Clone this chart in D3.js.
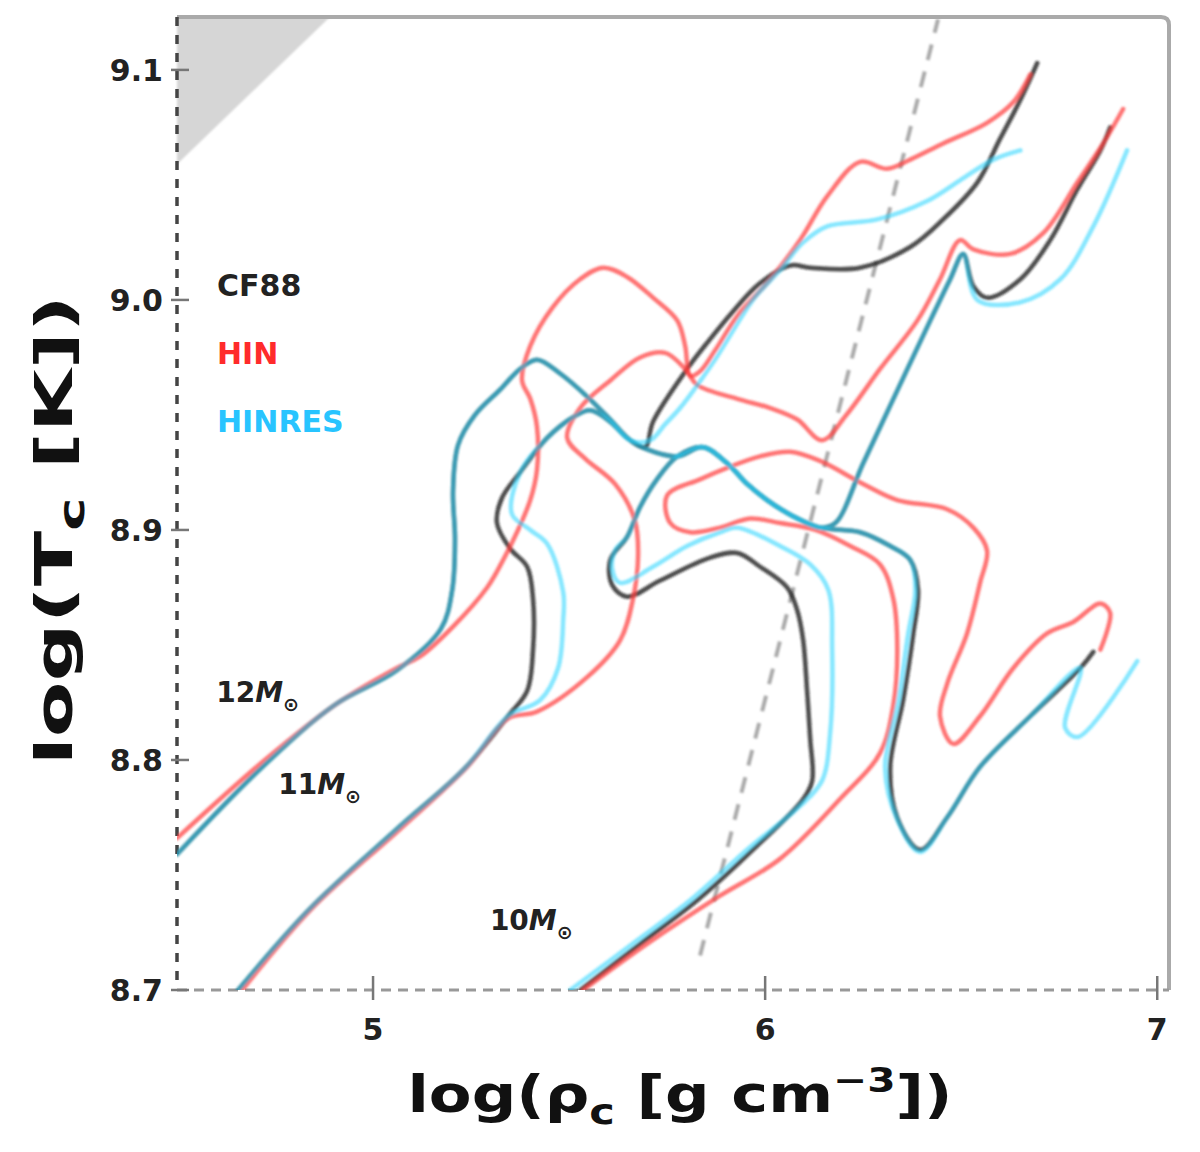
<!DOCTYPE html>
<html>
<head>
<meta charset="utf-8">
<title>log T_c vs log rho_c</title>
<script src="https://d3js.org/d3.v7.min.js"></script>
<style>
  body { margin: 0; background: #fff; }
  svg text { font-family: "DejaVu Sans", sans-serif; }
</style>
</head>
<body>
<script>
// central density / temperature tracks, [log rho_c, log T_c]
var m12_cf88 = [[4.500,8.759],[4.724,8.798],[4.903,8.824],[5.061,8.839],[5.173,8.857],[5.202,8.874],[5.209,8.896],[5.204,8.917],[5.217,8.937],[5.260,8.950],[5.324,8.961],[5.375,8.970],[5.418,8.974],[5.477,8.968],[5.546,8.958],[5.605,8.948],[5.656,8.939],[5.694,8.936],[5.714,8.947],[5.801,8.970],[5.855,8.982],[5.918,8.995],[5.985,9.007],[6.064,9.015],[6.115,9.014],[6.242,9.014],[6.370,9.023],[6.454,9.035],[6.541,9.051],[6.599,9.070],[6.651,9.087],[6.694,9.103]];
var m12_hin = [[4.500,8.766],[4.724,8.800],[4.903,8.824],[5.061,8.840],[5.120,8.845],[5.204,8.858],[5.291,8.875],[5.332,8.887],[5.367,8.899],[5.401,8.913],[5.418,8.926],[5.418,8.945],[5.401,8.957],[5.380,8.965],[5.401,8.980],[5.459,8.997],[5.528,9.009],[5.587,9.014],[5.648,9.010],[5.714,9.001],[5.776,8.991],[5.796,8.980],[5.809,8.967],[5.834,8.969],[5.872,8.978],[5.929,8.993],[6.013,9.009],[6.089,9.026],[6.158,9.045],[6.242,9.060],[6.311,9.057],[6.370,9.061],[6.454,9.068],[6.566,9.077],[6.633,9.086],[6.676,9.098]];
var m12_hinres = [[4.500,8.759],[4.724,8.798],[4.903,8.824],[5.061,8.839],[5.173,8.857],[5.202,8.874],[5.209,8.896],[5.204,8.917],[5.217,8.937],[5.260,8.950],[5.324,8.961],[5.375,8.970],[5.418,8.974],[5.477,8.968],[5.546,8.958],[5.605,8.948],[5.656,8.939],[5.707,8.939],[5.745,8.946],[5.783,8.953],[5.872,8.974],[5.969,9.000],[6.038,9.013],[6.097,9.025],[6.158,9.032],[6.286,9.035],[6.413,9.043],[6.497,9.052],[6.582,9.061],[6.651,9.065]];

var m11_cf88 = [[4.656,8.700],[4.837,8.735],[5.061,8.770],[5.232,8.796],[5.344,8.819],[5.393,8.830],[5.408,8.848],[5.408,8.870],[5.393,8.884],[5.349,8.892],[5.316,8.903],[5.329,8.914],[5.375,8.925],[5.444,8.940],[5.510,8.949],[5.554,8.952],[5.605,8.947],[5.648,8.940],[5.699,8.935],[5.776,8.932],[5.842,8.936],[5.903,8.929],[5.954,8.920],[6.005,8.913],[6.071,8.906],[6.140,8.901],[6.179,8.903],[6.250,8.929],[6.327,8.957],[6.421,8.991],[6.472,9.009],[6.505,9.020],[6.531,9.006],[6.566,9.001],[6.651,9.009],[6.727,9.026],[6.796,9.048],[6.855,9.065],[6.880,9.075]];
var m11_hin = [[4.666,8.700],[4.847,8.736],[5.069,8.770],[5.240,8.797],[5.344,8.818],[5.418,8.821],[5.546,8.836],[5.630,8.852],[5.663,8.870],[5.676,8.889],[5.668,8.904],[5.617,8.920],[5.541,8.931],[5.495,8.940],[5.528,8.953],[5.605,8.965],[5.681,8.975],[5.745,8.977],[5.796,8.970],[5.827,8.963],[5.929,8.957],[6.013,8.953],[6.082,8.948],[6.145,8.939],[6.207,8.950],[6.293,8.970],[6.388,8.991],[6.446,9.009],[6.497,9.026],[6.531,9.022],[6.625,9.020],[6.709,9.029],[6.796,9.051],[6.862,9.068],[6.913,9.083]];
var m11_hinres = [[4.656,8.700],[4.837,8.735],[5.061,8.770],[5.232,8.796],[5.344,8.819],[5.426,8.826],[5.472,8.840],[5.485,8.861],[5.485,8.873],[5.444,8.894],[5.401,8.900],[5.354,8.907],[5.375,8.925],[5.444,8.940],[5.510,8.949],[5.554,8.952],[5.605,8.947],[5.648,8.940],[5.699,8.935],[5.776,8.932],[5.842,8.936],[5.903,8.929],[5.954,8.920],[6.005,8.913],[6.071,8.906],[6.140,8.901],[6.179,8.903],[6.250,8.929],[6.327,8.957],[6.421,8.991],[6.472,9.009],[6.505,9.020],[6.541,9.000],[6.651,8.999],[6.753,9.009],[6.837,9.032],[6.923,9.065]];

var m10_cf88 = [[5.528,8.700],[5.681,8.720],[5.827,8.739],[5.969,8.761],[6.097,8.783],[6.120,8.791],[6.115,8.809],[6.107,8.830],[6.097,8.852],[6.082,8.865],[6.056,8.875],[5.987,8.884],[5.929,8.890],[5.860,8.888],[5.732,8.878],[5.648,8.871],[5.610,8.876],[5.605,8.887],[5.648,8.897],[5.681,8.910],[5.724,8.922],[5.776,8.932],[5.842,8.936],[5.903,8.929],[5.954,8.920],[6.005,8.913],[6.071,8.906],[6.140,8.901],[6.242,8.899],[6.319,8.893],[6.370,8.887],[6.390,8.874],[6.378,8.855],[6.352,8.826],[6.319,8.797],[6.337,8.775],[6.395,8.761],[6.464,8.775],[6.548,8.797],[6.676,8.819],[6.804,8.840],[6.837,8.847]];
var m10_hin = [[5.536,8.700],[5.707,8.721],[5.885,8.741],[6.038,8.757],[6.191,8.783],[6.293,8.803],[6.327,8.824],[6.337,8.848],[6.327,8.870],[6.293,8.885],[6.217,8.893],[6.128,8.900],[6.038,8.903],[5.962,8.905],[5.885,8.901],[5.809,8.899],[5.758,8.903],[5.750,8.915],[5.834,8.922],[5.903,8.927],[5.987,8.932],[6.064,8.934],[6.140,8.930],[6.250,8.920],[6.337,8.913],[6.464,8.909],[6.531,8.901],[6.566,8.891],[6.548,8.877],[6.515,8.855],[6.464,8.833],[6.446,8.819],[6.480,8.807],[6.548,8.819],[6.633,8.840],[6.719,8.855],[6.786,8.860],[6.855,8.868],[6.880,8.864],[6.855,8.848]];
var m10_hinres = [[5.503,8.700],[5.661,8.720],[5.809,8.739],[5.954,8.761],[6.089,8.780],[6.145,8.791],[6.166,8.812],[6.171,8.848],[6.161,8.874],[6.115,8.885],[6.038,8.893],[5.929,8.901],[5.885,8.899],[5.801,8.893],[5.714,8.884],[5.630,8.877],[5.610,8.883],[5.617,8.891],[5.648,8.897],[5.681,8.910],[5.724,8.922],[5.776,8.932],[5.842,8.936],[5.903,8.929],[5.954,8.920],[6.005,8.913],[6.071,8.906],[6.140,8.901],[6.242,8.899],[6.319,8.893],[6.370,8.887],[6.383,8.874],[6.365,8.855],[6.340,8.826],[6.306,8.797],[6.337,8.774],[6.395,8.760],[6.464,8.775],[6.548,8.797],[6.676,8.819],[6.804,8.840],[6.765,8.814],[6.798,8.810],[6.949,8.843]];

// gray dashed line and shaded corner
var degenLine = [[5.834,8.715],[6.441,9.122]];
var shadeCorner = [[4.500,9.123],[4.890,9.123],[4.500,9.059]];

var xTicks = [5, 6, 7];
var yTicks = [8.7, 8.8, 8.9, 9.0, 9.1];
var rates = ["CF88", "HIN", "HINRES"];
var masses = ["12", "11", "10"];

var width = 1200, height = 1152;
var padL = 177, padR = 1169, padT = 17, padB = 990;

var x = d3.scaleLinear().domain([4.5, 7.03]).range([padL, padR]);
var y = d3.scaleLinear().domain([8.7, 9.123]).range([padB, padT]);

var svg = d3.select("body").append("svg")
  .attr("width", width)
  .attr("height", height);

var defs = svg.append("defs");
defs.append("clipPath").attr("id", "plot")
  .append("rect")
  .attr("x", padL).attr("y", padT)
  .attr("width", padR - padL).attr("height", padB - padT);
defs.append("filter").attr("id", "soft")
  .append("feGaussianBlur").attr("stdDeviation", 1.2);

// shaded corner
svg.append("path")
  .attr("d", d3.line().x(function(d) { return x(d[0]); }).y(function(d) { return y(d[1]); })(shadeCorner) + "Z")
  .attr("fill", "#d6d6d6")
  .attr("filter", "url(#soft)");

// frame: top and right solid gray, left and bottom dashed
svg.append("path")
  .attr("d", "M" + padL + "," + padT + "H" + (padR - 8) + "Q" + padR + "," + padT + " " + padR + "," + (padT + 8) + "V" + padB)
  .attr("fill", "none")
  .attr("stroke", "#aaa")
  .attr("stroke-width", 4);
svg.append("line")
  .attr("x1", padL).attr("x2", padL).attr("y1", padT).attr("y2", padB)
  .attr("stroke", "#444").attr("stroke-width", 3.5)
  .attr("stroke-dasharray", "9,9");
svg.append("line")
  .attr("x1", padL).attr("x2", padR).attr("y1", padB).attr("y2", padB)
  .attr("stroke", "#999").attr("stroke-width", 3)
  .attr("stroke-dasharray", "10,7");

// ticks and labels
svg.selectAll(".xt").data(xTicks).enter().append("line")
  .attr("x1", function(d) { return x(d); }).attr("x2", function(d) { return x(d); })
  .attr("y1", padB - 14).attr("y2", padB + 10)
  .attr("stroke", "#777").attr("stroke-width", 2.5);
svg.selectAll(".xl").data(xTicks).enter().append("text")
  .attr("x", function(d) { return x(d); })
  .attr("y", padB + 50)
  .attr("text-anchor", "middle")
  .attr("font-size", 30).attr("font-weight", "bold").attr("fill", "#222")
  .text(function(d) { return d; });

svg.selectAll(".yt").data(yTicks).enter().append("line")
  .attr("x1", padL - 6).attr("x2", padL + 12)
  .attr("y1", function(d) { return y(d); }).attr("y2", function(d) { return y(d); })
  .attr("stroke", "#777").attr("stroke-width", 2.5);
svg.selectAll(".yl").data(yTicks).enter().append("text")
  .attr("x", padL - 14)
  .attr("y", function(d) { return y(d) + 11; })
  .attr("text-anchor", "end")
  .attr("font-size", 30).attr("font-weight", "bold").attr("fill", "#222")
  .text(function(d) { return d.toFixed(1); });

// axis titles
var ylab = svg.append("text")
  .attr("transform", "translate(72,530) rotate(-90)")
  .attr("text-anchor", "middle")
  .attr("font-size", 52).attr("font-weight", "bold").attr("fill", "#111")
  .attr("textLength", 470).attr("lengthAdjust", "spacingAndGlyphs");
ylab.append("tspan").text("log(T");
ylab.append("tspan").attr("dy", 12).attr("font-size", 36).text("c");
ylab.append("tspan").attr("dy", -12).text(" [K])");

var xlab = svg.append("text")
  .attr("x", 680).attr("y", 1112)
  .attr("text-anchor", "middle")
  .attr("font-size", 52).attr("font-weight", "bold").attr("fill", "#111")
  .attr("textLength", 545).attr("lengthAdjust", "spacingAndGlyphs");
xlab.append("tspan").text("log(ρ");
xlab.append("tspan").attr("dy", 12).attr("font-size", 36).text("c");
xlab.append("tspan").attr("dy", -12).text(" [g cm");
xlab.append("tspan").attr("dy", -20).attr("font-size", 34).text("−3");
xlab.append("tspan").attr("dy", 20).text("])");

// dashed gray line
var plot = svg.append("g").attr("clip-path", "url(#plot)");
plot.append("line")
  .attr("x1", x(degenLine[0][0])).attr("y1", y(degenLine[0][1]))
  .attr("x2", x(degenLine[1][0])).attr("y2", y(degenLine[1][1]))
  .attr("stroke", "#aaa").attr("stroke-width", 4)
  .attr("stroke-dasharray", "16,12")
  .attr("filter", "url(#soft)");

// tracks
var line = d3.line()
  .x(function(d) { return x(d[0]); })
  .y(function(d) { return y(d[1]); })
  .curve(d3.curveCatmullRom.alpha(0.5));

var tracks = [
  { rate: 0, pts: m12_cf88 }, { rate: 0, pts: m11_cf88 }, { rate: 0, pts: m10_cf88 },
  { rate: 1, pts: m12_hin }, { rate: 1, pts: m11_hin }, { rate: 1, pts: m10_hin },
  { rate: 2, pts: m12_hinres }, { rate: 2, pts: m11_hinres }, { rate: 2, pts: m10_hinres }
];
var colors = ["#1e1e1e", "#ff3d3d", "#2cd6ff"];
var opac = [0.8, 0.72, 0.58];

var lines = plot.append("g").attr("filter", "url(#soft)");
lines.selectAll("path").data(tracks).enter().append("path")
  .attr("d", function(d) { return line(d.pts); })
  .attr("fill", "none")
  .attr("stroke", function(d) { return colors[d.rate]; })
  .attr("stroke-opacity", function(d) { return opac[d.rate]; })
  .attr("stroke-width", 4.5)
  .attr("stroke-linejoin", "round")
  .attr("stroke-linecap", "round");

// legend
var legendColors = ["#222", "#ff2b2b", "#28c4ff"];
svg.selectAll(".lg").data(rates).enter().append("text")
  .attr("x", 217)
  .attr("y", function(d, i) { return 296 + i * 68; })
  .attr("font-size", 30).attr("font-weight", "bold")
  .attr("fill", function(d, i) { return legendColors[i]; })
  .text(function(d) { return d; });

// mass labels
var massAt = [[4.600, 8.825], [4.758, 8.785], [5.298, 8.726]];
masses.forEach(function(m, i) {
  var t = svg.append("text")
    .attr("x", x(massAt[i][0])).attr("y", y(massAt[i][1]))
    .attr("font-size", 28).attr("font-weight", "bold").attr("fill", "#222");
  t.append("tspan").text(m);
  t.append("tspan").attr("font-style", "italic").text("M");
  t.append("tspan").attr("dy", 9).attr("font-size", 19).text("⊙");
});
</script>
</body>
</html>
